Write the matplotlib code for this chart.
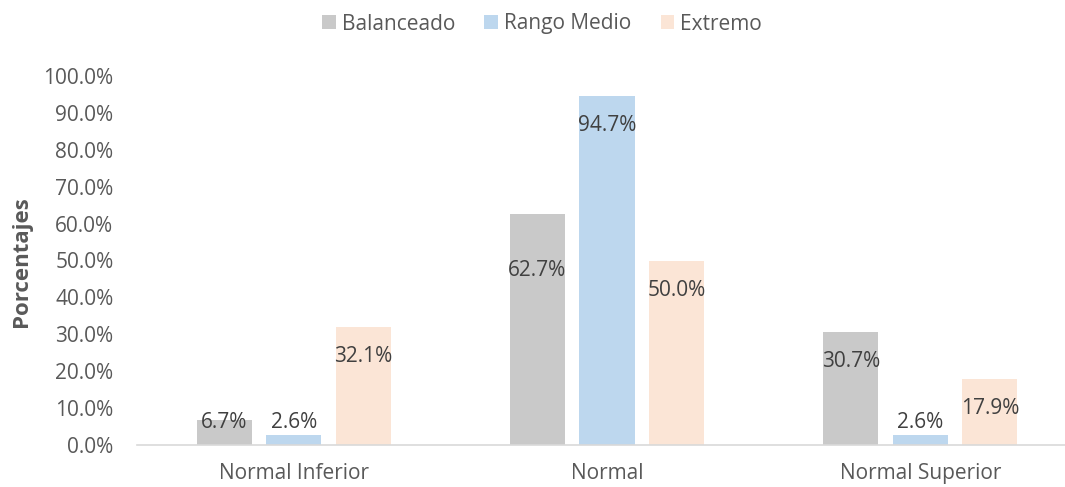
import numpy as np
import matplotlib.pyplot as plt

plt.rcParams['font.family'] = ['Open Sans', 'DejaVu Sans']

categories = ['Normal Inferior', 'Normal', 'Normal Superior']
series = ['Balanceado', 'Rango Medio', 'Extremo']
balanceado = [6.7, 62.7, 30.7]
rango_medio = [2.6, 94.7, 2.6]
extremo = [32.1, 50.0, 17.9]
yticks = np.arange(0, 101, 10)

values = [balanceado, rango_medio, extremo]
colors = ['#C9C9C9', '#BDD7EE', '#FBE5D6']
# extra downward shift of some labels (as placed in the original)
label_shift = [[0, 7.3, 0], [0, 0, 0], [0, 0, 0]]

fig = plt.figure(figsize=(10.65, 4.87), dpi=100)
ax = fig.add_axes([137 / 1065, 42 / 487, 940 / 1065, 369 / 487])

x = np.arange(len(categories))
width = 0.176
step = 0.222
for i, (name, vals, col) in enumerate(zip(series, values, colors)):
    pos = x + (i - 1) * step
    ax.bar(pos, vals, width, color=col, label=name)
    for j, (p, v) in enumerate(zip(pos, vals)):
        ly = max(v - 8, 6) - label_shift[i][j]
        ax.text(p, ly, f'{v:.1f}%', ha='center', va='center',
                fontsize=15, color='#404040')

ax.set_xlim(-0.5, 2.5)
ax.set_ylim(0, 100)
ax.set_yticks(yticks)
ax.set_yticklabels([f'{t:.1f}%' for t in yticks])
ax.set_xticks(x)
ax.set_xticklabels(categories)
ax.tick_params(axis='both', length=0, labelsize=15, colors='#595959')
ax.tick_params(axis='y', pad=17)
ax.tick_params(axis='x', pad=13)
for s in ['top', 'right', 'left']:
    ax.spines[s].set_visible(False)
ax.spines['bottom'].set_color('#D9D9D9')
ax.spines['bottom'].set_linewidth(1.2)

fig.text(22 / 1065, 1 - 262 / 487, 'Porcentajes', rotation=90, ha='center',
         va='center', fontsize=16, fontweight='bold', color='#595959')

fig.legend(loc='center', bbox_to_anchor=(542 / 1065, 1 - 24 / 487), ncol=3,
           frameon=False, fontsize=15, handlelength=0.65, handleheight=0.65,
           handletextpad=0.3, columnspacing=1.4, labelcolor='#595959')

plt.savefig('out.png', dpi=100)
